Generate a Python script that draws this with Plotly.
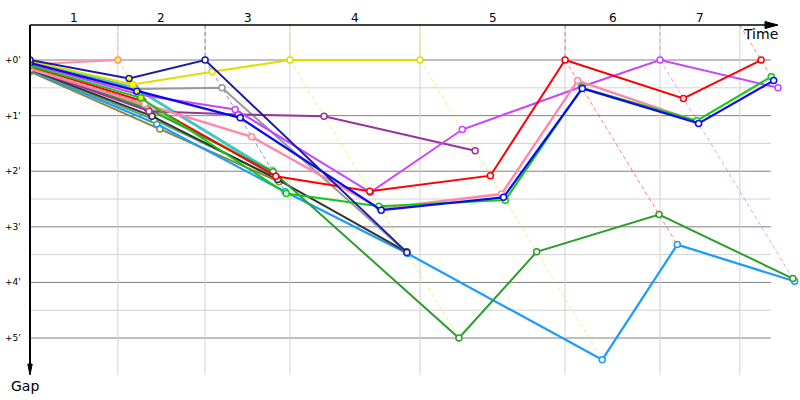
import plotly.graph_objects as go

# ---------------- data ----------------
lap_labels = ["1", "2", "3", "4", "5", "6", "7"]
lap_marks = [2.60, 5.18, 7.69, 11.54, 15.83, 18.64, 21.00]          # lap boundary gridlines (min)
lap_leader_time = [2.60, 5.18, 7.69, 11.54, 15.83, 18.64, 21.63]    # leader crossing time per lap (min)
gap_ticks = [0, 1, 2, 3, 4, 5]
gap_tick_text = ["+0'", "+1'", "+2'", "+3'", "+4'", "+5'"]

# gaps (min): index 0 = start, index k = end of lap k
gap_olive      = [0.21, 1.24, 2.19]
gap_skyblue    = [0.19, 1.15, 2.37, 3.48, 5.39, 3.32, 3.98]
gap_seagreen   = [0.18, 1.07, 2.12]
gap_black      = [0.17, 1.01, 2.15, 3.45]
gap_lightgreen = [0.13, 0.84, 1.98]
gap_turquoise  = [0.04, 0.50, 2.03]
gap_darkgreen  = [0.14, 0.88, 2.01, 5.00, 3.45, 2.78, 3.93]
gap_gray       = [0.09, 0.52, 0.50, 3.46]
gap_purple     = [0.15, 0.92, 0.98, 1.01, 1.63]
gap_pink1      = [0.08, 0.00]
gap_yellow     = [0.02, 0.44, 0.21, 0.00, 0.00]
gap_violet     = [0.07, 0.62, 0.89, 2.38, 1.25, 0.48, 0.00, 0.50]
gap_red        = [0.11, 0.74, 2.09, 2.36, 2.08, 0.00, 0.69, 0.00]
gap_pink2      = [0.16, 0.79, 1.38, 2.67, 2.41, 0.37, 1.11]
gap_green      = [0.10, 0.68, 2.40, 2.63, 2.52, 0.50, 1.09, 0.30]
gap_blue       = [0.05, 0.56, 1.04, 2.70, 2.47, 0.51, 1.14, 0.37]
gap_navy       = [0.00, 0.33, 0.00, 3.46]

# (gaps, colour, line width, yellow-filled marker at lap 1)
series = [
    (gap_olive, "#8c8c3c", 2, False),
    (gap_skyblue, "#1a9cff", 2.2, False),
    (gap_seagreen, "#5aa870", 2, False),
    (gap_black, "#333333", 2, False),
    (gap_lightgreen, "#99cc66", 2, False),
    (gap_turquoise, "#3cc8c8", 3, True),
    (gap_darkgreen, "#2c9e2c", 2, False),
    (gap_gray, "#999999", 2, False),
    (gap_purple, "#993399", 2, False),
    (gap_pink1, "#ff8fa8", 2, True),
    (gap_yellow, "#dede00", 2, True),
    (gap_violet, "#c844ff", 2, False),
    (gap_red, "#ff0000", 2, False),
    (gap_pink2, "#ff88a8", 2.4, False),
    (gap_green, "#14c814", 2, True),
    (gap_blue, "#0a0af0", 2.2, True),
    (gap_navy, "#1b1ba8", 2, True),
]
dash_from_top = [False, False, False, False, False, False, True]

# ---------------- geometry ----------------
W, H = 800, 400
ML, MR, MT, MB = 30, 0, 25, 25
X_MIN, X_MAX = 0.0, 22.78
Y_TOP, Y_BOT = -0.63, 5.665


def px2x(px):
    return (px - ML) / (W - ML - MR)


def py2y(py):
    return (H - MB - py) / (H - MT - MB)


def hexa(c, a):
    c = c.lstrip("#")
    r, g, b = int(c[0:2], 16), int(c[2:4], 16), int(c[4:6], 16)
    return f"rgba({r},{g},{b},{a})"


def point_time(k, g):
    return 0.0 if k == 0 else lap_leader_time[k - 1] + g


fig = go.Figure()
shapes = []

# gridlines
for g in gap_ticks:
    shapes.append(dict(type="line", xref="x", yref="y", x0=X_MIN, x1=21.92, y0=g, y1=g,
                       line=dict(color="#808080", width=1), layer="below"))
for g in gap_ticks[:-1]:
    shapes.append(dict(type="line", xref="x", yref="y", x0=X_MIN, x1=21.92, y0=g + 0.5, y1=g + 0.5,
                       line=dict(color="#d2d2d2", width=1), layer="below"))
for t in lap_marks:
    shapes.append(dict(type="line", xref="x", yref="y", x0=t, x1=t, y0=Y_TOP, y1=Y_BOT,
                       line=dict(color="#d2d2d2", width=1), layer="below"))

# leader reference (dashed) lines
n_laps = len(lap_leader_time)
for k in range(1, n_laps + 1):
    lead_col, gmax = None, None
    for gaps, col, w, yf in series:
        if len(gaps) > k:
            if gaps[k] == 0 and lead_col is None:
                lead_col = col
            gmax = gaps[k] if gmax is None else max(gmax, gaps[k])
    tl = lap_leader_time[k - 1]
    if dash_from_top[k - 1]:
        xs, ys = [tl + Y_TOP, tl + gmax], [Y_TOP, gmax]
    else:
        xs, ys = [tl, tl, tl + gmax], [Y_TOP, 0, gmax]
    fig.add_trace(go.Scatter(x=xs, y=ys, mode="lines", hoverinfo="skip",
                             line=dict(color=hexa(lead_col, 0.5), width=1, dash="4px,3px"),
                             showlegend=False))

# driver traces
for gaps, col, w, yf in series:
    xs = [point_time(k, g) for k, g in enumerate(gaps)]
    fills = []
    for k in range(len(gaps)):
        if k == 0 or (k == 1 and yf):
            fills.append("#ffff00")
        else:
            fills.append("#ffffff")
    fig.add_trace(go.Scatter(
        x=xs, y=gaps, mode="lines+markers", showlegend=False,
        line=dict(color=col, width=w),
        marker=dict(size=6, color=fills, line=dict(color=col, width=1.5)),
    ))

# axes with arrows
shapes.append(dict(type="line", xref="paper", yref="paper", x0=px2x(30), x1=px2x(768),
                   y0=py2y(25), y1=py2y(25), line=dict(color="black", width=1.5)))
shapes.append(dict(type="path", xref="paper", yref="paper",
                   path=f"M {px2x(765)} {py2y(21.5)} L {px2x(778)} {py2y(25)} L {px2x(765)} {py2y(28.5)} Z",
                   fillcolor="black", line=dict(color="black", width=1)))
shapes.append(dict(type="line", xref="paper", yref="paper", x0=px2x(30), x1=px2x(30),
                   y0=py2y(25), y1=py2y(366), line=dict(color="black", width=2)))
shapes.append(dict(type="path", xref="paper", yref="paper",
                   path=f"M {px2x(27.8)} {py2y(364)} L {px2x(30)} {py2y(375)} L {px2x(32.2)} {py2y(364)} Z",
                   fillcolor="black", line=dict(color="black", width=1)))

annotations = []
bounds = [0.0] + lap_marks
for i, lab in enumerate(lap_labels):
    annotations.append(dict(x=(bounds[i] + bounds[i + 1]) / 2, y=py2y(18), xref="x", yref="paper",
                            text=lab, showarrow=False, xanchor="center", yanchor="middle",
                            font=dict(family="DejaVu Sans", size=12, color="black")))
for g, txt in zip(gap_ticks, gap_tick_text):
    annotations.append(dict(x=px2x(23), y=g, xref="paper", yref="y", text=txt, showarrow=False,
                            xanchor="right", yanchor="middle",
                            font=dict(family="DejaVu Sans", size=9, color="black")))
annotations.append(dict(x=px2x(760), y=py2y(34), xref="paper", yref="paper", text="Time",
                        showarrow=False, xanchor="center", yanchor="middle",
                        font=dict(family="DejaVu Sans", size=14, color="black")))
annotations.append(dict(x=px2x(25), y=py2y(386), xref="paper", yref="paper", text="Gap",
                        showarrow=False, xanchor="center", yanchor="middle",
                        font=dict(family="DejaVu Sans", size=14, color="black")))

fig.update_layout(
    width=W, height=H,
    margin=dict(l=ML, r=MR, t=MT, b=MB),
    paper_bgcolor="white", plot_bgcolor="white",
    xaxis=dict(range=[X_MIN, X_MAX], showgrid=False, zeroline=False, showticklabels=False,
               showline=False, ticks=""),
    yaxis=dict(range=[Y_BOT, Y_TOP], showgrid=False, zeroline=False, showticklabels=False,
               showline=False, ticks=""),
    shapes=shapes, annotations=annotations, showlegend=False,
)

fig.write_html("out.html", config={"displayModeBar": False},
               post_script="document.body.style.margin='0px';")
